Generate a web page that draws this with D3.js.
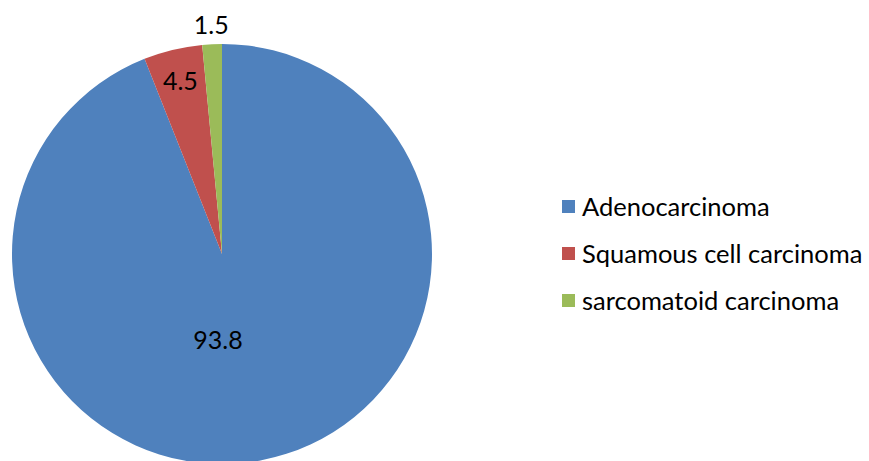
<!DOCTYPE html>
<html>
<head>
<meta charset="utf-8">
<script src="https://cdn.jsdelivr.net/npm/d3@7"></script>
<style>
  html, body { margin: 0; padding: 0; background: #fff; }
  svg { display: block; }
  text { font-family: Lato, "Open Sans", sans-serif; fill: #000; }
</style>
</head>
<body>
<svg id="chart" width="869" height="461"></svg>
<script>
// Histological types (%)
const categories = ["Adenocarcinoma", "Squamous cell carcinoma", "sarcomatoid carcinoma"];
const values = [93.8, 4.5, 1.5];
const colors = ["#4F81BD", "#C0504D", "#9BBB59"];

const svg = d3.select("#chart");
const cx = 222, cy = 254, r = 210;

const pie = d3.pie().sort(null).value(d => d.value);
const arc = d3.arc().innerRadius(0).outerRadius(r);

const data = categories.map((c, i) => ({ name: c, value: values[i], color: colors[i] }));
const arcs = pie(data);

const g = svg.append("g").attr("transform", `translate(${cx},${cy})`);

g.selectAll("path.slice")
  .data(arcs)
  .join("path")
  .attr("class", "slice")
  .attr("d", arc)
  .attr("fill", d => d.data.color);

// Value labels: the large slice is labelled below the centre, the thin ones
// along their mid-angle (the smallest just outside the rim)
function labelPos(d, i) {
  const mid = (d.startAngle + d.endAngle) / 2;
  const spec = [
    { a: Math.PI * 1.015, k: 0.41 },
    { a: mid, k: 0.848 },
    { a: mid, k: 1.09 }
  ][i];
  return [Math.sin(spec.a) * r * spec.k, -Math.cos(spec.a) * r * spec.k];
}
g.selectAll("text.value")
  .data(arcs)
  .join("text")
  .attr("class", "value")
  .attr("transform", (d, i) => `translate(${labelPos(d, i)})`)
  .attr("text-anchor", "middle")
  .attr("dy", "0.36em")
  .style("font-size", "25px")
  .text(d => d.data.value.toFixed(1));

// Legend
const legend = svg.append("g").attr("transform", "translate(562,200)");
const item = legend.selectAll("g")
  .data(data)
  .join("g")
  .attr("transform", (d, i) => `translate(0,${i * 47})`);
item.append("rect")
  .attr("width", 13).attr("height", 13)
  .attr("fill", d => d.color);
item.append("text")
  .attr("x", 20).attr("y", 6.5)
  .attr("dy", "0.36em")
  .style("font-size", "25.5px")
  .text(d => d.name);
</script>
</body>
</html>
